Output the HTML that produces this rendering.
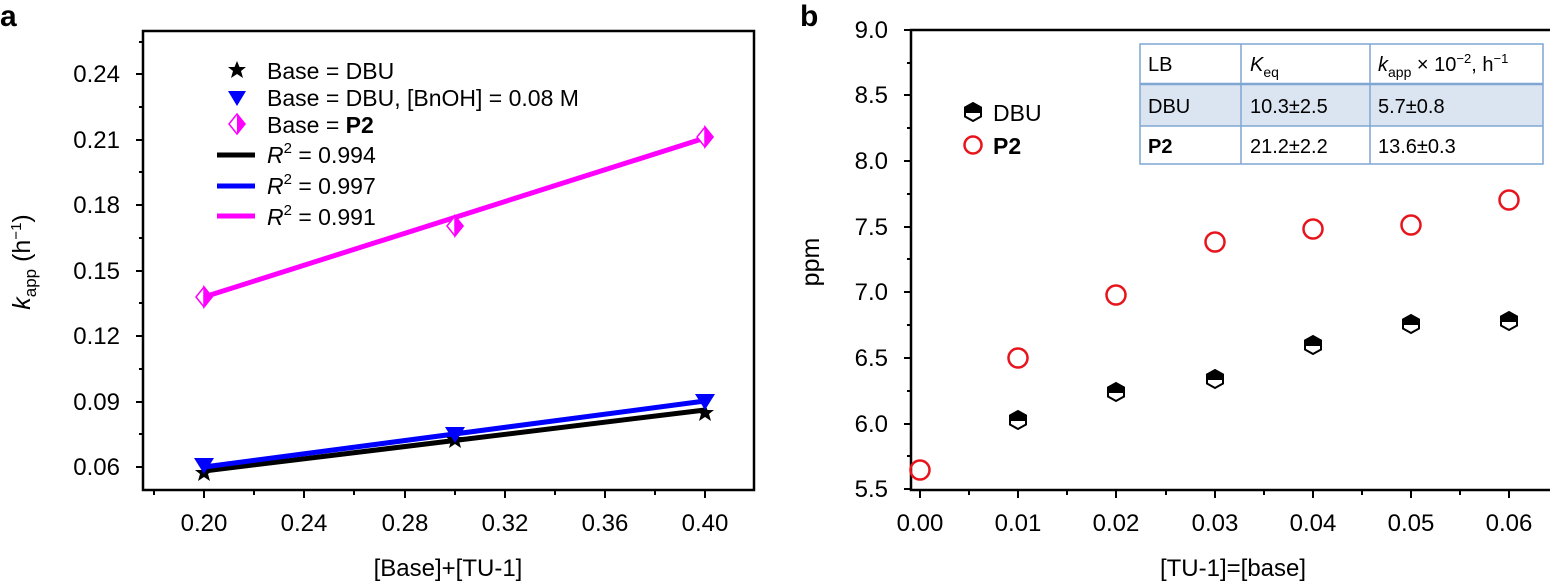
<!DOCTYPE html>
<html><head><meta charset="utf-8"><style>
html,body{margin:0;padding:0;background:#fff;}
svg{display:block;font-family:"Liberation Sans",Arial,sans-serif;}
</style></head><body>
<svg width="1550" height="581" viewBox="0 0 1550 581" xmlns="http://www.w3.org/2000/svg">
<!-- Panel a -->
<text x="0" y="26" font-size="30" font-weight="bold">a</text>
<rect x="143" y="31" width="611" height="459" fill="none" stroke="#000" stroke-width="2.5"/>
<g stroke="#000" stroke-width="2">
<line x1="143" y1="467" x2="136" y2="467"/><line x1="143" y1="434" x2="139" y2="434"/>
<line x1="143" y1="402" x2="136" y2="402"/><line x1="143" y1="369" x2="139" y2="369"/>
<line x1="143" y1="336" x2="136" y2="336"/><line x1="143" y1="303" x2="139" y2="303"/>
<line x1="143" y1="271" x2="136" y2="271"/><line x1="143" y1="238" x2="139" y2="238"/>
<line x1="143" y1="205" x2="136" y2="205"/><line x1="143" y1="172" x2="139" y2="172"/>
<line x1="143" y1="140" x2="136" y2="140"/><line x1="143" y1="107" x2="139" y2="107"/>
<line x1="143" y1="74" x2="136" y2="74"/><line x1="143" y1="42" x2="139" y2="42"/>
<line x1="154" y1="490" x2="154" y2="495"/><line x1="204" y1="490" x2="204" y2="498"/>
<line x1="254" y1="490" x2="254" y2="495"/><line x1="304" y1="490" x2="304" y2="498"/>
<line x1="354" y1="490" x2="354" y2="495"/><line x1="405" y1="490" x2="405" y2="498"/>
<line x1="455" y1="490" x2="455" y2="495"/><line x1="505" y1="490" x2="505" y2="498"/>
<line x1="555" y1="490" x2="555" y2="495"/><line x1="605" y1="490" x2="605" y2="498"/>
<line x1="655" y1="490" x2="655" y2="495"/><line x1="705" y1="490" x2="705" y2="498"/>
</g>
<g font-size="24" text-anchor="end">
<text x="120" y="475">0.06</text><text x="120" y="410">0.09</text><text x="120" y="344">0.12</text>
<text x="120" y="279">0.15</text><text x="120" y="213">0.18</text><text x="120" y="148">0.21</text>
<text x="120" y="82">0.24</text>
</g>
<g font-size="24" text-anchor="middle">
<text x="204" y="531">0.20</text><text x="304" y="531">0.24</text><text x="405" y="531">0.28</text>
<text x="505" y="531">0.32</text><text x="605" y="531">0.36</text><text x="705" y="531">0.40</text>
<text x="448" y="576">[Base]+[TU-1]</text>
</g>
<text transform="translate(30,262) rotate(-90)" font-size="25" text-anchor="middle"><tspan font-style="italic">k</tspan><tspan font-size="17" dy="6">app</tspan><tspan dy="-6"> (h</tspan><tspan font-size="15" dy="-9">−1</tspan><tspan dy="9">)</tspan></text>
<!-- lines -->
<line x1="204" y1="471" x2="705" y2="410" stroke="#000" stroke-width="5"/>
<line x1="204" y1="467" x2="705" y2="401" stroke="#0000ff" stroke-width="5"/>
<line x1="204" y1="297" x2="705" y2="138" stroke="#ff00ff" stroke-width="5"/>
<!-- markers -->
<g fill="#000">
<polygon points="204,464 206.5,470 213,470 208,474 210,481 204,477 198,481 200,474 195,470 201.5,470"/>
<polygon points="455,431 457.5,437 464,437 459,441 461,448 455,444 449,448 451,441 446,437 452.5,437"/>
<polygon points="705,404 707.5,410 714,410 709,414 711,421 705,417 699,421 701,414 696,410 702.5,410"/>
</g>
<g fill="#0000ff">
<polygon points="194,458 214,458 204,474"/><polygon points="445,427 465,427 455,443"/><polygon points="695,394 715,394 705,410"/>
</g>
<g stroke="#ff00ff" stroke-width="1.5">
<polygon points="204,287 212,297 204,307 196,297" fill="#fff"/><polygon points="204,287 212,297 204,307" fill="#ff00ff"/>
<polygon points="455,216 463,226 455,236 447,226" fill="#fff"/><polygon points="455,216 463,226 455,236" fill="#ff00ff"/>
<polygon points="705,127 713,137 705,147 697,137" fill="#fff"/><polygon points="705,127 713,137 705,147" fill="#ff00ff"/>
</g>
<!-- legend a -->
<polygon points="237,61 239.5,67 246,67 241,71 243,78 237,74 231,78 233,71 228,67 234.5,67" fill="#000"/>
<polygon points="228,91 246,91 237,106" fill="#0000ff"/>
<polygon points="237,114 245,124 237,134 229,124" fill="#fff" stroke="#ff00ff" stroke-width="1.5"/>
<polygon points="237,114 245,124 237,134" fill="#ff00ff"/>
<line x1="217" y1="155" x2="255" y2="155" stroke="#000" stroke-width="5"/>
<line x1="217" y1="186" x2="255" y2="186" stroke="#0000ff" stroke-width="5"/>
<line x1="217" y1="216" x2="255" y2="216" stroke="#ff00ff" stroke-width="5"/>
<g font-size="23">
<text x="267" y="79">Base = DBU</text>
<text x="267" y="106">Base = DBU, [BnOH] = 0.08 M</text>
<text x="267" y="133">Base = <tspan font-weight="bold">P2</tspan></text>
<text x="267" y="163"><tspan font-style="italic">R</tspan><tspan font-size="15" dy="-10">2</tspan><tspan dy="10"> = 0.994</tspan></text>
<text x="267" y="194"><tspan font-style="italic">R</tspan><tspan font-size="15" dy="-10">2</tspan><tspan dy="10"> = 0.997</tspan></text>
<text x="267" y="225"><tspan font-style="italic">R</tspan><tspan font-size="15" dy="-10">2</tspan><tspan dy="10"> = 0.991</tspan></text>
</g>

<!-- Panel b -->
<text x="800" y="26" font-size="30" font-weight="bold">b</text>
<rect x="911" y="30" width="650" height="460" fill="none" stroke="#000" stroke-width="2.5"/>
<g stroke="#000" stroke-width="2">
<line x1="911" y1="489" x2="904" y2="489"/><line x1="911" y1="456" x2="907" y2="456"/>
<line x1="911" y1="424" x2="904" y2="424"/><line x1="911" y1="391" x2="907" y2="391"/>
<line x1="911" y1="358" x2="904" y2="358"/><line x1="911" y1="325" x2="907" y2="325"/>
<line x1="911" y1="292" x2="904" y2="292"/><line x1="911" y1="259" x2="907" y2="259"/>
<line x1="911" y1="227" x2="904" y2="227"/><line x1="911" y1="194" x2="907" y2="194"/>
<line x1="911" y1="161" x2="904" y2="161"/><line x1="911" y1="128" x2="907" y2="128"/>
<line x1="911" y1="95" x2="904" y2="95"/><line x1="911" y1="63" x2="907" y2="63"/>
<line x1="911" y1="30" x2="904" y2="30"/>
<line x1="920" y1="490" x2="920" y2="498"/><line x1="969" y1="490" x2="969" y2="495"/>
<line x1="1018" y1="490" x2="1018" y2="498"/><line x1="1067" y1="490" x2="1067" y2="495"/>
<line x1="1116" y1="490" x2="1116" y2="498"/><line x1="1166" y1="490" x2="1166" y2="495"/>
<line x1="1215" y1="490" x2="1215" y2="498"/><line x1="1264" y1="490" x2="1264" y2="495"/>
<line x1="1313" y1="490" x2="1313" y2="498"/><line x1="1362" y1="490" x2="1362" y2="495"/>
<line x1="1411" y1="490" x2="1411" y2="498"/><line x1="1460" y1="490" x2="1460" y2="495"/>
<line x1="1509" y1="490" x2="1509" y2="498"/>
</g>
<g font-size="24" text-anchor="end">
<text x="888" y="497">5.5</text><text x="888" y="432">6.0</text><text x="888" y="366">6.5</text>
<text x="888" y="300">7.0</text><text x="888" y="235">7.5</text><text x="888" y="169">8.0</text>
<text x="888" y="103">8.5</text><text x="888" y="38">9.0</text>
</g>
<g font-size="24" text-anchor="middle">
<text x="920" y="531">0.00</text><text x="1018" y="531">0.01</text><text x="1116" y="531">0.02</text>
<text x="1215" y="531">0.03</text><text x="1313" y="531">0.04</text><text x="1411" y="531">0.05</text>
<text x="1509" y="531">0.06</text>
<text x="1233" y="576">[TU-1]=[base]</text>
</g>
<text transform="translate(819,262) rotate(-90)" font-size="25" text-anchor="middle">ppm</text>
<!-- table -->
<rect x="1140" y="84" width="403" height="42" fill="#dbe5f1"/>
<g stroke="#7fa6d3" stroke-width="1.5" fill="none">
<rect x="1140" y="44" width="403" height="120"/>
<line x1="1140" y1="84" x2="1543" y2="84" stroke-width="2.5"/>
<line x1="1140" y1="126" x2="1543" y2="126"/>
<line x1="1241" y1="44" x2="1241" y2="164"/><line x1="1370" y1="44" x2="1370" y2="164"/>
</g>
<g font-size="20">
<text x="1148" y="71">LB</text>
<text x="1250" y="71"><tspan font-style="italic">K</tspan><tspan font-size="14" dy="6">eq</tspan></text>
<text x="1378" y="71"><tspan font-style="italic">k</tspan><tspan font-size="14" dy="6">app</tspan><tspan dy="-6"> × 10</tspan><tspan font-size="13" dy="-8">−2</tspan><tspan dy="8">, h</tspan><tspan font-size="13" dy="-8">−1</tspan></text>
<text x="1148" y="113">DBU</text><text x="1250" y="113">10.3±2.5</text><text x="1378" y="113">5.7±0.8</text>
<text x="1148" y="153" font-weight="bold">P2</text><text x="1250" y="153">21.2±2.2</text><text x="1378" y="153">13.6±0.3</text>
</g>
<!-- data -->
<defs>
<g id="hx">
<polygon points="0,-9 8,-4.5 8,4.5 0,9 -8,4.5 -8,-4.5" fill="#fff" stroke="#000" stroke-width="2"/>
<polygon points="0,-9 8,-4.5 8,1 -8,1 -8,-4.5" fill="#000"/>
</g>
</defs>
<use href="#hx" x="973" y="112"/>
<circle cx="973" cy="145" r="8.5" fill="none" stroke="#e8141c" stroke-width="2.5"/>
<text x="993" y="121" font-size="23">DBU</text>
<text x="993" y="154" font-size="23" font-weight="bold">P2</text>
<use href="#hx" x="1018" y="420"/><use href="#hx" x="1116" y="392"/><use href="#hx" x="1215" y="379"/>
<use href="#hx" x="1313" y="345"/><use href="#hx" x="1411" y="324"/><use href="#hx" x="1509" y="321"/>
<g fill="none" stroke="#e8141c" stroke-width="2.5">
<circle cx="920" cy="470" r="9.5"/><circle cx="1018" cy="358" r="9.5"/><circle cx="1116" cy="295" r="9.5"/>
<circle cx="1215" cy="242" r="9.5"/><circle cx="1313" cy="229" r="9.5"/><circle cx="1411" cy="225" r="9.5"/>
<circle cx="1509" cy="200" r="9.5"/>
</g>
</svg>
</body></html>
